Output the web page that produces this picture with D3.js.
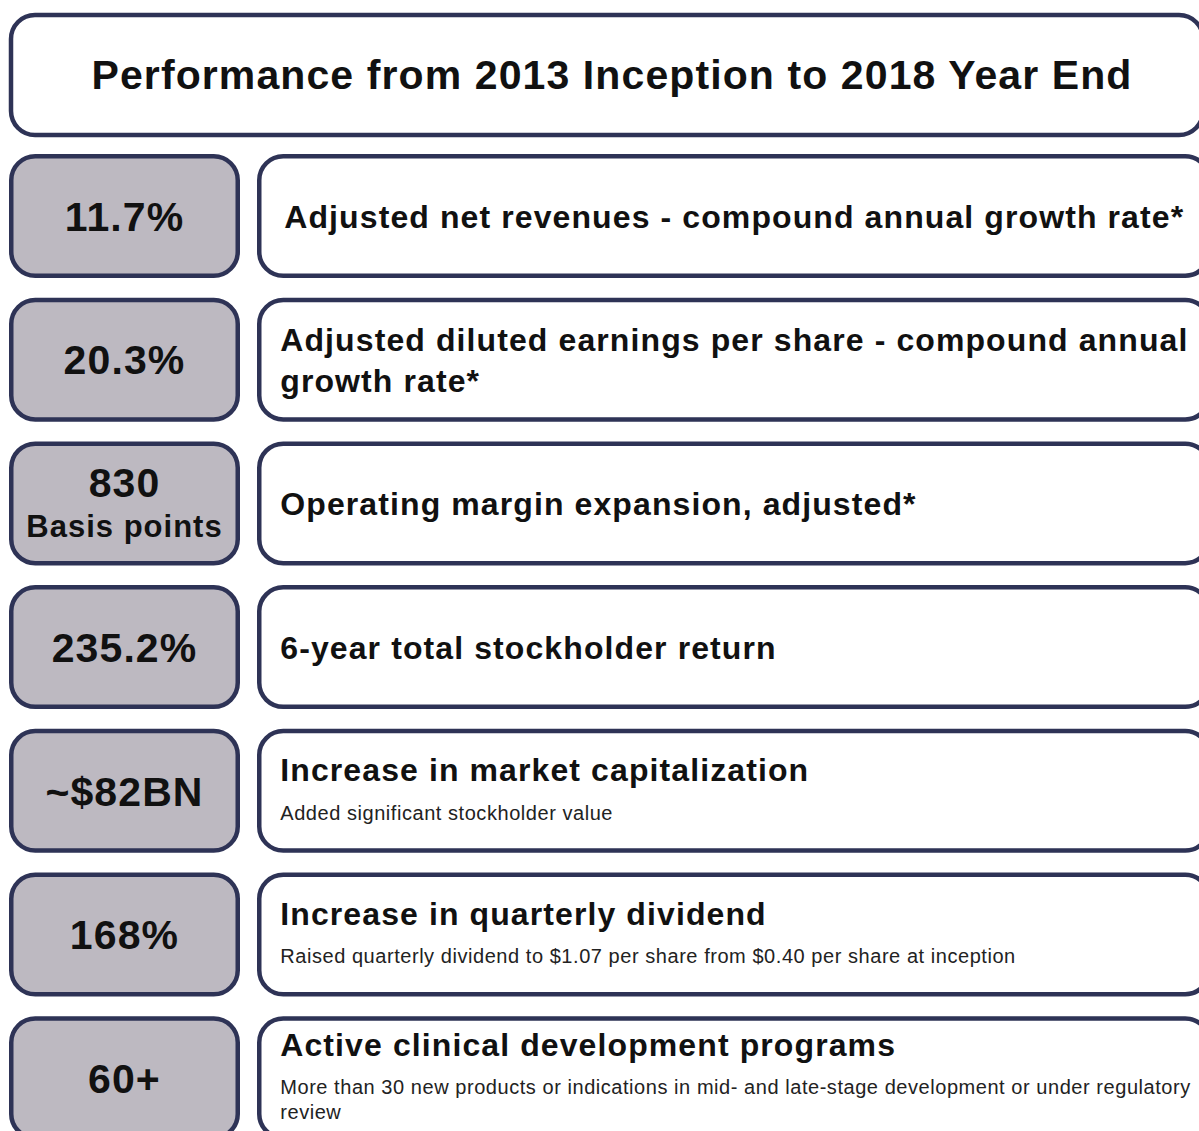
<!DOCTYPE html>
<html>
<head>
<meta charset="utf-8">
<script src="https://cdn.jsdelivr.net/npm/d3@7"></script>
<style>
  html, body { margin: 0; padding: 0; background: #ffffff; }
  svg { display: block; font-family: "Liberation Sans", Arial, Helvetica, sans-serif; }
</style>
</head>
<body>
<svg id="chart" width="1199" height="1131"></svg>
<script>
// ---- data ----
const chartTitle = "Performance from 2013 Inception to 2018 Year End";
const metricValues = ["11.7%", "20.3%", "830", "235.2%", "~$82BN", "168%", "60+"];
const metricUnits = ["", "", "Basis points", "", "", "", ""];
const metricLabels = [
  ["Adjusted net revenues - compound annual growth rate*"],
  ["Adjusted diluted earnings per share - compound annual", "growth rate*"],
  ["Operating margin expansion, adjusted*"],
  ["6-year total stockholder return"],
  ["Increase in market capitalization"],
  ["Increase in quarterly dividend"],
  ["Active clinical development programs"]
];
const metricNotes = [
  [],
  [],
  [],
  [],
  ["Added significant stockholder value"],
  ["Raised quarterly dividend to $1.07 per share from $0.40 per share at inception"],
  ["More than 30 new products or indications in mid- and late-stage development or under regulatory", "review"]
];

// ---- layout ----
const stroke = "#2e3356";
const grayFill = "#bdb9c1";
const sw = 4.5;
const radius = 24;
const boxH = 124, step = 143.7;

const svg = d3.select("#chart");

// title box
svg.append("rect")
  .attr("x", 11).attr("y", 15)
  .attr("width", 1192).attr("height", 120)
  .attr("rx", radius).attr("ry", radius)
  .attr("fill", "#fff").attr("stroke", stroke).attr("stroke-width", sw);

svg.append("text")
  .attr("x", 612).attr("y", 74 + 0.36 * 41)
  .attr("text-anchor", "middle")
  .attr("font-size", 41).attr("font-weight", "bold")
  .attr("letter-spacing", 1.1)
  .attr("fill", "#111")
  .text(chartTitle);

const rows = d3.range(metricValues.length);
const y = d3.scaleBand()
  .domain(rows)
  .range([154, 154 + step * (rows.length - 1) + boxH])
  .paddingInner(1 - boxH / step)
  .paddingOuter(0)
  .align(0);

const xPos = d3.scaleOrdinal().domain(["value", "label"]).range([11.25, 259.25]);
const leftW = 226.5, rightW = 950;

const g = svg.selectAll("g.row").data(rows).join("g").attr("class", "row");

// left value boxes
g.append("rect")
  .attr("x", xPos("value"))
  .attr("y", d => y(d) + sw / 2)
  .attr("width", leftW)
  .attr("height", y.bandwidth() - sw)
  .attr("rx", radius).attr("ry", radius)
  .attr("fill", grayFill).attr("stroke", stroke).attr("stroke-width", sw);

// right label boxes
g.append("rect")
  .attr("x", xPos("label"))
  .attr("y", d => y(d) + sw / 2)
  .attr("width", rightW)
  .attr("height", y.bandwidth() - sw)
  .attr("rx", radius).attr("ry", radius)
  .attr("fill", "#fff").attr("stroke", stroke).attr("stroke-width", sw);

const vFS = 41, uFS = 31, tFS = 32, nFS = 20;

g.each(function(d) {
  const sel = d3.select(this);
  const cy = y(d) + y.bandwidth() / 2;
  const cx = xPos("value") + leftW / 2;
  if (metricUnits[d]) {
    sel.append("text")
      .attr("x", cx).attr("y", cy - 21 + 0.36 * vFS)
      .attr("text-anchor", "middle")
      .attr("font-size", vFS).attr("font-weight", "bold").attr("letter-spacing", 1.1).attr("fill", "#111")
      .text(metricValues[d]);
    sel.append("text")
      .attr("x", cx).attr("y", cy + 22 + 0.36 * uFS)
      .attr("text-anchor", "middle")
      .attr("font-size", uFS).attr("font-weight", "bold").attr("letter-spacing", 1).attr("fill", "#111")
      .text(metricUnits[d]);
  } else {
    sel.append("text")
      .attr("x", cx).attr("y", cy + 0.36 * vFS)
      .attr("text-anchor", "middle")
      .attr("font-size", vFS).attr("font-weight", "bold").attr("letter-spacing", 1.1).attr("fill", "#111")
      .text(metricValues[d]);
  }

  // labels
  const titleLines = metricLabels[d];
  const noteLines = metricNotes[d];
  const tLH = 41, gap = 43, nLH = 25;
  let blockH = (titleLines.length - 1) * tLH;
  if (noteLines.length) blockH += gap + (noteLines.length - 1) * nLH;
  const top = cy - blockH / 2;
  const lx = xPos("label") + 21;
  titleLines.forEach((t, i) => {
    sel.append("text")
      .attr("x", lx + (d === 0 ? 4 : 0)).attr("y", top + i * tLH + 0.36 * tFS)
      .attr("font-size", tFS).attr("font-weight", "bold").attr("letter-spacing", 1.1).attr("fill", "#111")
      .text(t);
  });
  const nTop = top + (titleLines.length - 1) * tLH + gap;
  noteLines.forEach((t, i) => {
    sel.append("text")
      .attr("x", lx).attr("y", nTop + i * nLH + 0.36 * nFS)
      .attr("font-size", nFS).attr("letter-spacing", 0.55).attr("fill", "#222")
      .text(t);
  });
});
</script>
</body>
</html>
